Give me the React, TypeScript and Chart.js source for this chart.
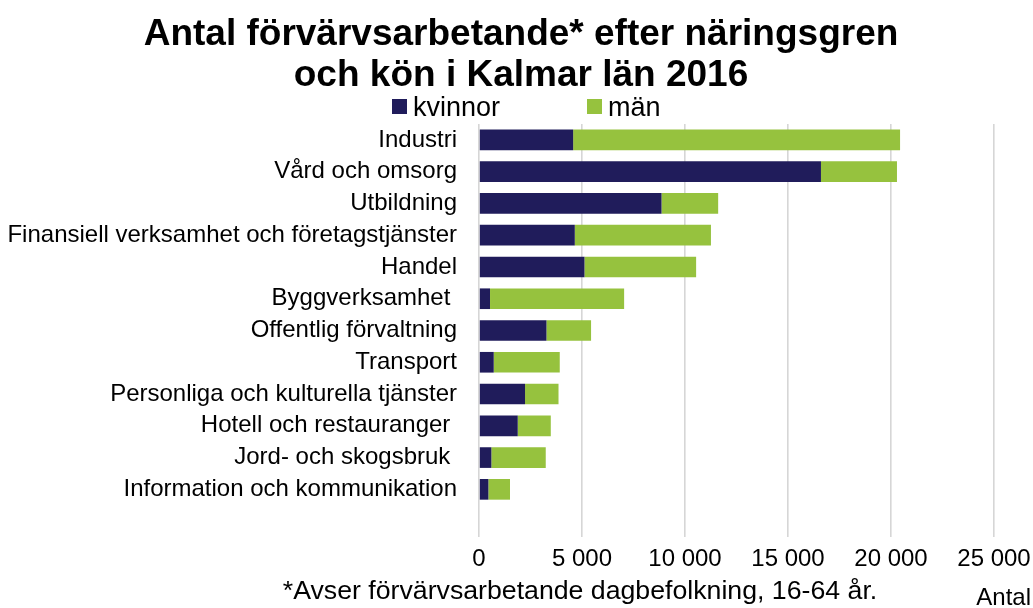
import React, { useEffect, useRef } from 'react';
import { Chart, registerables } from 'chart.js';

Chart.register(...registerables);

const FONT = '"Liberation Sans", Arial, Helvetica, sans-serif';

const titleLines = ['Antal förvärvsarbetande* efter näringsgren', 'och kön i Kalmar län 2016'];
const footnote = '*Avser förvärvsarbetande dagbefolkning, 16-64 år.';
const axisUnit = 'Antal';

const categories = [
  'Industri',
  'Vård och omsorg',
  'Utbildning',
  'Finansiell verksamhet och företagstjänster',
  'Handel',
  'Byggverksamhet ',
  'Offentlig förvaltning',
  'Transport',
  'Personliga och kulturella tjänster',
  'Hotell och restauranger ',
  'Jord- och skogsbruk ',
  'Information och kommunikation',
  '',
];

const seriesNames = ['kvinnor', 'män'];
const kvinnor = [4570, 16600, 8860, 4650, 5120, 535, 3275, 715, 2235, 1880, 600, 455, null];
const man = [15870, 3690, 2750, 6610, 5420, 6510, 2165, 3205, 1625, 1605, 2640, 1050, null];
const seriesColors = ['#201C5B', '#96C23E'];

const xMin = 0;
const xMax = 25000;
const xStep = 5000;

function formatThousands(v: number): string {
  return String(v).replace(/\B(?=(\d{3})+(?!\d))/g, ' ');
}

const decorPlugin = {
  id: 'decor',
  afterDraw(chart: any) {
    const ctx = chart.ctx as CanvasRenderingContext2D;
    ctx.save();
    ctx.fillStyle = '#000';
    ctx.textBaseline = 'alphabetic';
    // title
    ctx.textAlign = 'center';
    ctx.font = `bold 37px ${FONT}`;
    ctx.fillText(titleLines[0], 521, 45);
    ctx.fillText(titleLines[1], 521, 86);
    // legend
    ctx.textAlign = 'left';
    ctx.font = `27px ${FONT}`;
    const legendX = [392, 587];
    chart.data.datasets.forEach((ds: any, i: number) => {
      ctx.fillStyle = ds.backgroundColor;
      ctx.fillRect(legendX[i], 99, 15, 15);
      ctx.fillStyle = '#000';
      ctx.fillText(ds.label, legendX[i] + 21, 116);
    });
    // footnote
    ctx.textAlign = 'center';
    ctx.font = `26.7px ${FONT}`;
    ctx.fillText(footnote, 580, 598.5);
    // axis unit
    ctx.textAlign = 'right';
    ctx.font = `24px ${FONT}`;
    ctx.fillText(axisUnit, 1031, 605);
    ctx.restore();
  },
};

export default function App() {
  const ref = useRef<HTMLCanvasElement | null>(null);

  useEffect(() => {
    if (!ref.current) return;
    Chart.defaults.color = '#000';
    const chart = new Chart(ref.current, {
      type: 'bar',
      data: {
        labels: categories,
        datasets: [
          {
            label: seriesNames[0],
            data: kvinnor,
            backgroundColor: seriesColors[0],
            borderWidth: 0,
            barPercentage: 0.65,
            categoryPercentage: 1,
          },
          {
            label: seriesNames[1],
            data: man,
            backgroundColor: seriesColors[1],
            borderWidth: 0,
            barPercentage: 0.65,
            categoryPercentage: 1,
          },
        ],
      },
      options: {
        indexAxis: 'y',
        responsive: false,
        animation: false,
        devicePixelRatio: 1,
        layout: { padding: { top: 124, left: 0, right: 39, bottom: 31 } },
        plugins: {
          legend: { display: false },
          title: { display: false },
          tooltip: { enabled: false },
        },
        scales: {
          x: {
            stacked: true,
            min: xMin,
            max: xMax,
            border: { display: false },
            grid: { color: '#d6d6d6', lineWidth: 1.6, drawTicks: false },
            ticks: {
              stepSize: xStep,
              padding: 8,
              font: { family: FONT, size: 24 },
              color: '#000',
              maxRotation: 0,
              callback: (v: any) => formatThousands(Number(v)),
            },
            afterFit: (scale: any) => {
              scale.height = 40;
              scale.paddingRight = 0;
              scale.paddingLeft = 0;
            },
          },
          y: {
            stacked: true,
            border: { display: false },
            grid: { display: false, drawTicks: false },
            ticks: {
              padding: 22,
              font: { family: FONT, size: 24 },
              color: '#000',
              autoSkip: false,
            },
            afterFit: (scale: any) => {
              scale.width = 479;
            },
          },
        },
      },
      plugins: [decorPlugin],
    });
    return () => chart.destroy();
  }, []);

  return (
    <div style={{ position: 'fixed', left: 0, top: 0, width: 1033, height: 608, background: '#fff' }}>
      <canvas ref={ref} width={1033} height={608} style={{ display: 'block' }} />
    </div>
  );
}
